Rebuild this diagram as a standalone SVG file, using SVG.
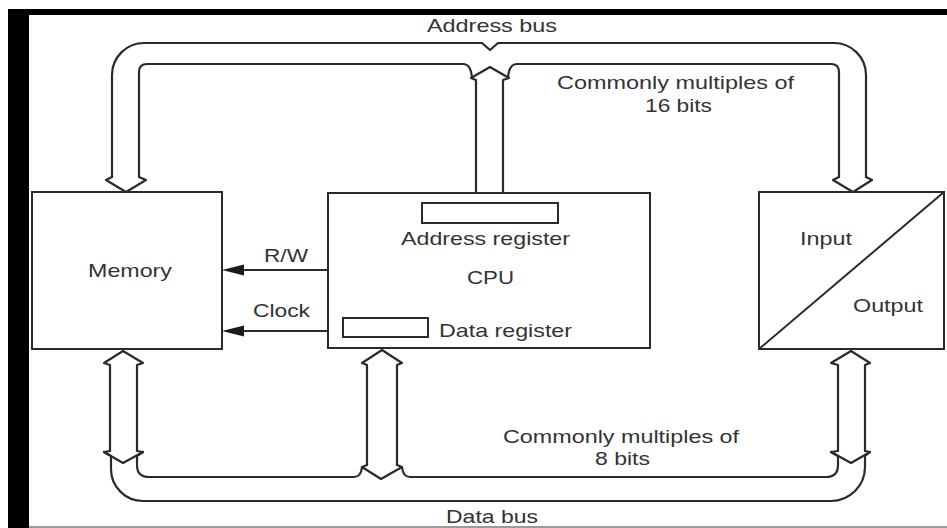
<svg xmlns="http://www.w3.org/2000/svg" width="947" height="528" viewBox="0 0 947 528">
  <style>
    .box { fill: #ffffff; stroke: #2a2a2a; stroke-width: 2; }
    .reg { fill: #ffffff; stroke: #2a2a2a; stroke-width: 2; }
    .bus { fill: none; stroke: #2a2a2a; stroke-width: 2.2; stroke-linejoin: round; stroke-linecap: round; }
    .sig { fill: none; stroke: #2a2a2a; stroke-width: 2; }
    .lbl { font-family: "Liberation Sans", Arial, sans-serif; font-size: 18.5px; fill: #333333; }
  </style>
  <defs>
    <marker id="tri" viewBox="0 0 22 12" refX="0" refY="6" markerWidth="22" markerHeight="12" markerUnits="userSpaceOnUse" orient="auto-start-reverse">
      <path d="M0,6 L22,0.5 L22,11.5 Z" fill="#1a1a1a"/>
    </marker>
  </defs>

  <!-- frame -->
  <rect x="0" y="0" width="947" height="528" fill="#ffffff"/>
  <rect x="8" y="9" width="939" height="6" fill="#000000"/>
  <rect x="8" y="9" width="21" height="519" fill="#000000"/>
  <line x1="29" y1="527" x2="947" y2="527" stroke="#9a9a9a" stroke-width="2"/>

  <!-- nodes -->
  <g id="memory">
    <rect class="box" x="32" y="192" width="190" height="157"/>
    <text class="lbl" x="88" y="277" textLength="84" lengthAdjust="spacingAndGlyphs">Memory</text>
  </g>

  <g id="cpu">
    <rect class="box" x="328" y="193" width="322" height="155"/>
    <rect class="reg" x="422" y="203" width="136" height="20"/>
    <text class="lbl" x="401" y="245" textLength="169" lengthAdjust="spacingAndGlyphs">Address register</text>
    <text class="lbl" x="467" y="284" textLength="47" lengthAdjust="spacingAndGlyphs">CPU</text>
    <rect class="reg" x="343" y="318" width="85" height="19"/>
    <text class="lbl" x="439" y="337" textLength="133" lengthAdjust="spacingAndGlyphs">Data register</text>
  </g>

  <g id="io">
    <rect class="box" x="759" y="192" width="185" height="157"/>
    <line class="sig" x1="759" y1="349" x2="944" y2="192"/>
    <text class="lbl" x="800" y="245" textLength="52" lengthAdjust="spacingAndGlyphs">Input</text>
    <text class="lbl" x="853" y="312" textLength="70" lengthAdjust="spacingAndGlyphs">Output</text>
  </g>

  <!-- connectors -->
  <g id="connectors">
    <g id="address-bus">
      <!-- outer line with notch -->
      <path class="bus" d="M112,177 V75 A32,32 0 0 1 144,43 H482 L490,50 L498,43 H834 A32,32 0 0 1 866,75 V177"/>
      <!-- left down arrowhead -->
      <path class="bus" d="M112,177 L106,180 L126,192 L146,180 L139,177"/>
      <!-- right down arrowhead -->
      <path class="bus" d="M866,177 L872,180 L853,192 L833,180 L839,177"/>
      <!-- inner line left -->
      <path class="bus" d="M139,177 V72 Q139,64 147,64 H463 Q471,64 472,78"/>
      <!-- inner line right -->
      <path class="bus" d="M508,78 Q509,64 517,64 H831 Q839,64 839,72 V177"/>
      <!-- CPU address stalk -->
      <path class="bus" d="M476,193 V80 L471,78 L490,67 L509,78 L503,80 V193"/>
      <text class="lbl" x="427" y="32" textLength="130" lengthAdjust="spacingAndGlyphs">Address bus</text>
      <text class="lbl" x="557" y="89" textLength="237" lengthAdjust="spacingAndGlyphs">Commonly multiples of</text>
      <text class="lbl" x="645" y="112" textLength="67" lengthAdjust="spacingAndGlyphs">16 bits</text>
    </g>

    <g id="data-bus">
      <!-- left stalk -->
      <path class="bus" d="M110,451 V365 L104,363 L123,351 L143,363 L137,365 V451"/>
      <path class="bus" d="M110,451 L104,452 L123,463 L143,452 L137,451"/>
      <!-- CPU stalk -->
      <path class="bus" d="M367,465 V365 L362,363 L382,350 L402,363 L397,365 V465"/>
      <!-- right stalk -->
      <path class="bus" d="M838,451 V365 L831,363 L851,351 L870,363 L865,365 V451"/>
      <path class="bus" d="M838,451 L831,452 L851,463 L870,452 L865,451"/>
      <!-- outer line -->
      <path class="bus" d="M104,452 L111,456 V469 A32,32 0 0 0 143,501 H831 A34,34 0 0 0 865,467 V456 L870,452"/>
      <!-- inner line -->
      <path class="bus" d="M143,452 L137,456 V465 Q137,477 149,477 H354 Q361,477 362,467 L367,465 L362,467 L381,479 L402,467 L397,465 L402,467 Q403,477 410,477 H826 Q838,477 838,465 V456 L831,452"/>
      <text class="lbl" x="503" y="443" textLength="236" lengthAdjust="spacingAndGlyphs">Commonly multiples of</text>
      <text class="lbl" x="595" y="465" textLength="55" lengthAdjust="spacingAndGlyphs">8 bits</text>
      <text class="lbl" x="446" y="523" textLength="92" lengthAdjust="spacingAndGlyphs">Data bus</text>
    </g>

    <g id="rw">
      <line class="sig" x1="328" y1="270" x2="244" y2="270"/>
      <path d="M222,270 L244,264.5 L244,275.5 Z" fill="#1a1a1a"/>
      <text class="lbl" x="264" y="262" textLength="44" lengthAdjust="spacingAndGlyphs">R/W</text>
    </g>

    <g id="clock">
      <line class="sig" x1="328" y1="331" x2="244" y2="331"/>
      <path d="M222,331 L244,325.5 L244,336.5 Z" fill="#1a1a1a"/>
      <text class="lbl" x="253" y="317" textLength="57" lengthAdjust="spacingAndGlyphs">Clock</text>
    </g>
  </g>
</svg>
